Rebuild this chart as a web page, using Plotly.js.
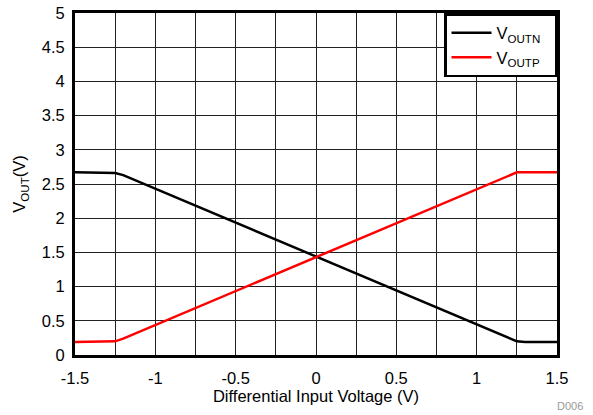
<!DOCTYPE html>
<html>
<head>
<meta charset="utf-8">
<script src="https://cdn.plot.ly/plotly-3.0.1.min.js"></script>
<style>html,body{margin:0;padding:0;background:#fff;}#chart{width:593px;height:415px;}</style>
</head>
<body>
<div id="chart"></div>
<script>
const voutnX = [-1.5, -1.3, -1.25, -1.2, 1.2, 1.25, 1.3, 1.5];
const voutnY = [2.67, 2.67, 2.66, 2.63, 0.24, 0.2, 0.19, 0.19];
const voutpX = [-1.5, -1.3, -1.25, -1.2, 1.2, 1.25, 1.3, 1.5];
const voutpY = [0.19, 0.19, 0.2, 0.24, 2.63, 2.67, 2.67, 2.67];
const xTicks = [-1.5, -1, -0.5, 0, 0.5, 1, 1.5];
const yTicks = [0, 0.5, 1, 1.5, 2, 2.5, 3, 3.5, 4, 4.5, 5];

const fam = 'Liberation Sans, Arial, sans-serif';
const font = {family: fam, size: 16.5, color: '#000'};
const traces = [
  {x: voutnX, y: voutnY, mode: 'lines', name: 'V<sub>OUTN</sub>\u00a0\u00a0', line: {color: '#000', width: 2.5}},
  {x: voutpX, y: voutpY, mode: 'lines', name: 'V<sub>OUTP</sub>\u00a0\u00a0', line: {color: '#ff0000', width: 2.5}}
];
const layout = {
  width: 593, height: 415,
  margin: {l: 75, r: 36, t: 13, b: 60},
  paper_bgcolor: '#fff', plot_bgcolor: '#fff',
  font: font,
  showlegend: true,
  legend: {x: 1, y: 1, xanchor: 'right', yanchor: 'top', bgcolor: '#fff', bordercolor: '#000', borderwidth: 2.5,
    font: {family: fam, size: 16.5, color: '#000'}, tracegroupgap: 0, itemwidth: 40},
  xaxis: {
    range: [-1.5, 1.5], tickvals: xTicks, ticktext: xTicks.map(String),
    showgrid: true, gridcolor: '#222', gridwidth: 1,
    minor: {dtick: 0.25, tick0: 0, showgrid: true, gridcolor: '#222', gridwidth: 1},
    showline: true, linecolor: '#000', linewidth: 3, mirror: true,
    ticks: '', ticklabelstandoff: 6, zeroline: false, fixedrange: true,
    title: {text: 'Differential Input Voltage (V)', font: {family: fam, size: 16.5}, standoff: 1}
  },
  yaxis: {
    range: [0, 5], tickvals: yTicks, ticktext: yTicks.map(String),
    showgrid: true, gridcolor: '#222', gridwidth: 1,
    showline: true, linecolor: '#000', linewidth: 3, mirror: true,
    ticks: '', ticklabelstandoff: 4, zeroline: false, fixedrange: true,
    title: {text: 'V<sub>OUT</sub>(V)', font: {family: fam, size: 16.5}, standoff: 12}
  },
  annotations: [{text: 'D006', xref: 'paper', yref: 'paper', x: 1.058, y: -0.125, xanchor: 'right', yanchor: 'top', showarrow: false, font: {family: fam, size: 11, color: '#999'}}]
};
Plotly.newPlot('chart', traces, layout, {displayModeBar: false, staticPlot: true});
</script>
</body>
</html>
